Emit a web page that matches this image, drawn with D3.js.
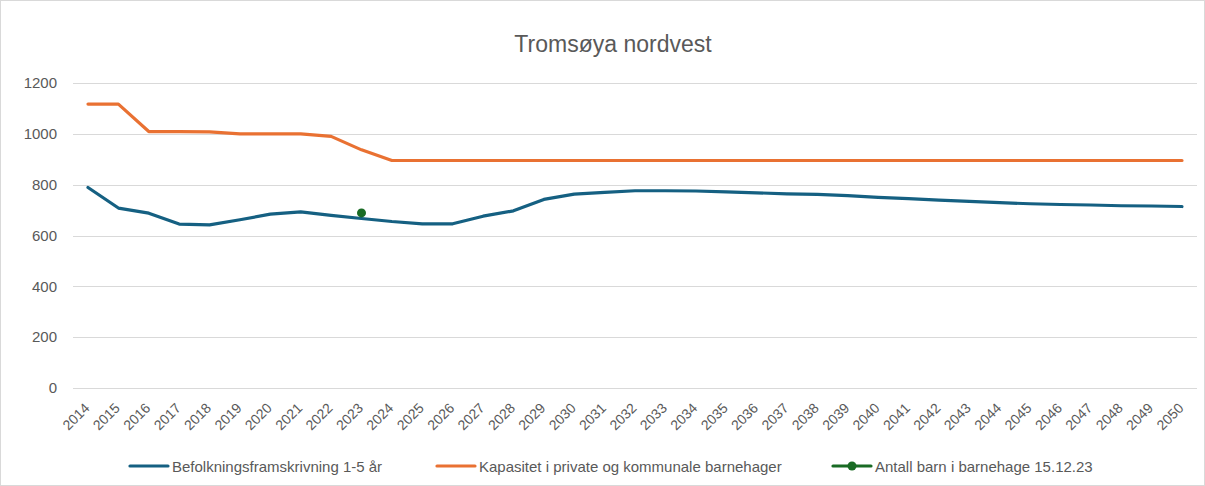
<!DOCTYPE html>
<html><head><meta charset="utf-8">
<script src="https://cdn.jsdelivr.net/npm/d3@7"></script>
<style>body{margin:0;background:#fff}svg{display:block}text{font-family:"Liberation Sans",Arial,sans-serif}</style>
</head><body>
<svg id="c" width="1205" height="486"></svg>
<script>
const years = d3.range(2014, 2051).map(String);
const befolkning = [789,708,688,645,642,662,684,693,679,667,655,646,646,676,697,742,763,770,776,776,775,772,768,764,762,757,750,745,739,734,729,725,722,720,717,716,714];
const kapasitet = [1117,1117,1009,1009,1008,1000,1000,1000,990,937,895,895,895,895,895,895,895,895,895,895,895,895,895,895,895,895,895,895,895,895,895,895,895,895,895,895,895];
const antallYear = ["2023"];
const antall = [689];
const yTicks = [0,200,400,600,800,1000,1200];
const seriesNames = ["Befolkningsframskrivning 1-5 år","Kapasitet i private og kommunale barnehager","Antall barn i barnehage 15.12.23"];
const colors = ["#156082","#E97132","#196B24"];

const svg = d3.select("#c");
svg.append("rect").attr("x",0.5).attr("y",0.5).attr("width",1204).attr("height",485).attr("fill","#fff").attr("stroke","#d9d9d9");

const x = d3.scalePoint().domain(years).range([88,1182]);
const y = d3.scaleLinear().domain([0,1200]).range([388,83]);
const left = 73, right = 1197;

svg.append("text").attr("x",613).attr("y",52).attr("text-anchor","middle")
  .attr("font-size",23).attr("fill","#595959").text("Tromsøya nordvest");

// gridlines
svg.append("g").selectAll("line").data(yTicks).join("line")
  .attr("x1",left).attr("x2",right).attr("y1",d=>Math.round(y(d))+0.5).attr("y2",d=>Math.round(y(d))+0.5)
  .attr("stroke","#d9d9d9").attr("stroke-width",1);

// y axis
const ya = svg.append("g").attr("transform",`translate(${left},0)`)
  .call(d3.axisLeft(y).tickValues(yTicks).tickFormat(d3.format("d")).tickSize(0).tickPadding(16));
ya.select(".domain").remove();
ya.selectAll("text").attr("font-size",15).attr("fill","#595959").style("font-family","Liberation Sans,Arial,sans-serif");

// x axis
const xa = svg.append("g").attr("transform",`translate(0,${y(0)})`)
  .call(d3.axisBottom(x).tickSize(0).tickPadding(0));
xa.select(".domain").remove();
xa.selectAll("text").attr("font-size",14).attr("fill","#595959")
  .style("font-family","Liberation Sans,Arial,sans-serif")
  .attr("text-anchor","end").attr("dy",null).attr("y",0)
  .attr("transform","translate(2,21) rotate(-45)");

const line = d3.line().x((d,i)=>x(years[i])).y(d=>y(d));
svg.append("path").datum(kapasitet).attr("d",line).attr("fill","none")
  .attr("stroke",colors[1]).attr("stroke-width",3.2).attr("stroke-linejoin","round").attr("stroke-linecap","round");
svg.append("path").datum(befolkning).attr("d",line).attr("fill","none")
  .attr("stroke",colors[0]).attr("stroke-width",3.2).attr("stroke-linejoin","round").attr("stroke-linecap","round");
svg.append("g").selectAll("circle").data(antall).join("circle")
  .attr("cx",(d,i)=>x(antallYear[i])).attr("cy",d=>y(d)).attr("r",4.5).attr("fill",colors[2]);

// legend
const legX = [130,437,833];
const lg = svg.append("g");
seriesNames.forEach((n,i)=>{
  const g = lg.append("g").attr("transform",`translate(${legX[i]},466)`);
  g.append("line").attr("x1",0).attr("x2",38).attr("y1",0).attr("y2",0)
    .attr("stroke",colors[i]).attr("stroke-width",3.2).attr("stroke-linecap","round");
  if(i===2) g.append("circle").attr("cx",19).attr("cy",0).attr("r",4.5).attr("fill",colors[i]);
  g.append("text").attr("x",42).attr("y",5.5).attr("font-size",15).attr("fill","#595959").text(n);
});
</script>
</body></html>
